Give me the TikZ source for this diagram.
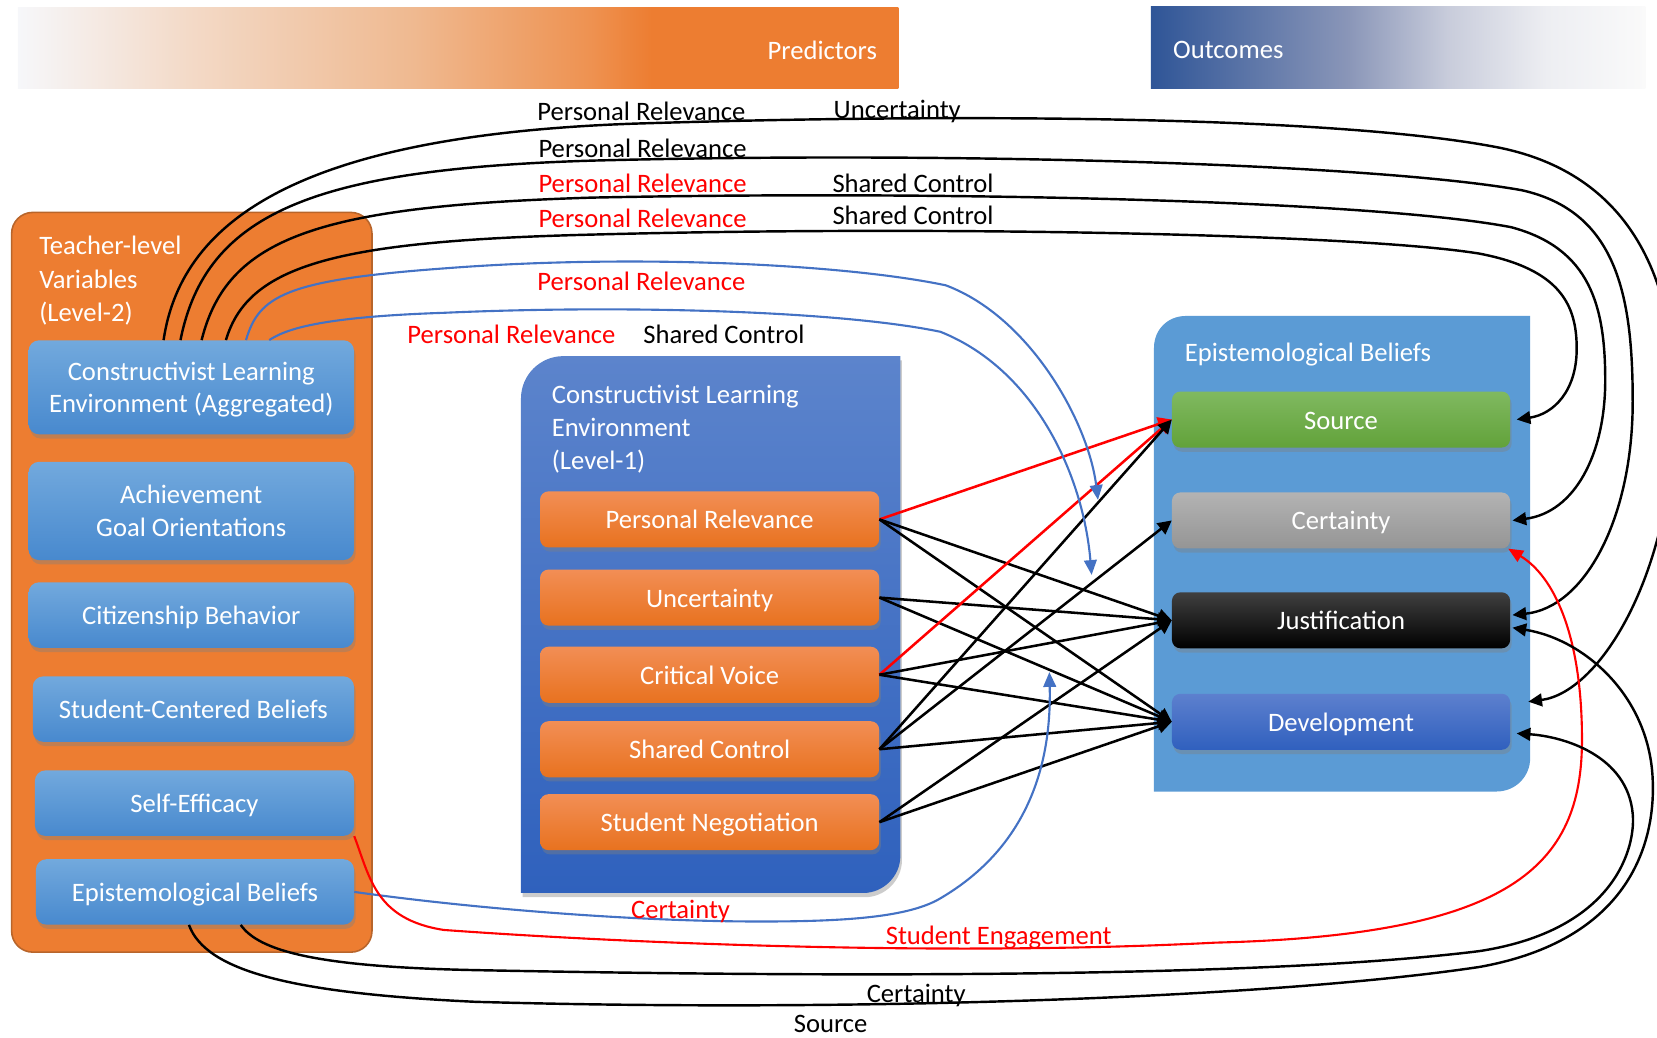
\documentclass[tikz,border=0pt]{standalone}
\usepackage{fontspec}
\setmainfont{Carlito}
\usetikzlibrary{arrows.meta,shadows}

\definecolor{orgC}{HTML}{ED7D31}
\definecolor{orgEdge}{HTML}{B8652B}
\definecolor{boxBlueTop}{HTML}{72A9DD}
\definecolor{boxBlueBot}{HTML}{4889CE}
\definecolor{orTop}{HTML}{F28E55}
\definecolor{orBot}{HTML}{E8721F}
\definecolor{midTop}{HTML}{5C84CC}
\definecolor{midBot}{HTML}{2F61BD}
\definecolor{epiFill}{HTML}{5B9BD5}
\definecolor{srcTop}{HTML}{80B960}
\definecolor{srcBot}{HTML}{62A23A}
\definecolor{crtTop}{HTML}{B3B3B3}
\definecolor{crtBot}{HTML}{959595}
\definecolor{jusTop}{HTML}{404040}
\definecolor{devTop}{HTML}{5D80CE}
\definecolor{devBot}{HTML}{3060BE}
\definecolor{linkBlue}{HTML}{4472C4}
\definecolor{linkRed}{HTML}{FF0000}
\definecolor{outDark}{HTML}{2F5597}
\definecolor{predL}{HTML}{F6F7FA}
\definecolor{predA}{HTML}{F3D9C6}
\definecolor{predB}{HTML}{EFB990}
\definecolor{predC}{HTML}{EE9251}
\definecolor{outA}{HTML}{8A96B8}
\definecolor{outB}{HTML}{C8CCDB}
\definecolor{outC}{HTML}{EDEEF2}
\definecolor{outD}{HTML}{FAFAFA}

% banner gradients (path box spans 25bp..75bp)
\pgfdeclarehorizontalshading{predbar}{100bp}{color(0bp)=(predL); color(25bp)=(predL); color(35bp)=(predA); color(47.5bp)=(predB); color(57.5bp)=(predC); color(61bp)=(orgC); color(100bp)=(orgC)}
\pgfdeclarehorizontalshading{outbar}{100bp}{color(0bp)=(outDark); color(25bp)=(outDark); color(45bp)=(outA); color(55bp)=(outB); color(65bp)=(outC); color(75bp)=(outD); color(100bp)=(outD)}

\tikzset{
  every node/.style={font=\fontsize{25.2}{31}\selectfont},
  softshadow/.style={drop shadow={shadow xshift=1.5pt, shadow yshift=-4pt, opacity=0.4}},
  oneline/.style={text height=18pt, text depth=0pt},
  twoline/.style={text depth=0pt},
  lvbox/.style={rounded corners=10pt, top color=boxBlueTop, bottom color=boxBlueBot,
    text=white, align=center, inner sep=0pt, softshadow},
  obox/.style={rounded corners=8pt, top color=orTop, bottom color=orBot, text=white,
    minimum width=321pt, minimum height=53pt, inner sep=0pt, softshadow, oneline},
  ebox/.style={rounded corners=8pt, text=white, minimum width=320pt,
    minimum height=53pt, inner sep=0pt, softshadow, oneline},
  title/.style={anchor=base west, align=left, text=white, inner sep=0pt},
  lbl/.style={anchor=base, inner sep=0pt},
  straight/.style={line width=2.4pt, -{Triangle[length=13pt,width=13pt]}},
  crv/.style={line width=2.3pt, -{Triangle[length=13pt,width=12pt]}},
  bcrv/.style={line width=2pt, draw=linkBlue, -{Triangle[length=14pt,width=12pt]}},
  rcrv/.style={line width=2pt, draw=linkRed, -{Triangle[length=14pt,width=12pt]}}
}

\begin{document}
\begin{tikzpicture}[x=1pt,y=-1pt]
\useasboundingbox (0,0) rectangle (1568,982);

% banners
\shade[shading=predbar] (17,7) rectangle (850,84);
\node[anchor=base east, text=white, inner sep=0pt] (predlbl) at (830,56) {Predictors};
\shade[shading=outbar] (1089,6) rectangle (1557,84);
\node[anchor=base west, text=white, inner sep=0pt] (outlbl) at (1110,55) {Outcomes};

% teacher-level container
\node[draw=orgEdge, fill=orgC, line width=1.5pt, rounded corners=20pt,
  minimum width=341pt, minimum height=700pt, inner sep=0pt] (lvtwo) at (181.5,551) {};
\node[title] (lvtwotitle) at (37,241) {Teacher-level};
\node[title] (lvtwotitleb) at (37,273) {Variables};
\node[title] (lvtwotitlec) at (37,304) {(Level-2)};

\node[lvbox, twoline, minimum width=308pt, minimum height=89pt] (cle) at (181,366.5)
  {Constructivist Learning\\Environment (Aggregated)};
\node[lvbox, twoline, minimum width=308pt, minimum height=93pt] (ago) at (181,483.5)
  {Achievement\\Goal Orientations};
\node[lvbox, oneline, minimum width=308pt, minimum height=62pt] (cb) at (181,582) {Citizenship Behavior};
\node[lvbox, oneline, minimum width=304pt, minimum height=62pt] (scb) at (183,671) {Student-Centered Beliefs};
\node[lvbox, oneline, minimum width=302pt, minimum height=62pt] (se) at (184,760) {Self-Efficacy};
\node[lvbox, oneline, minimum width=301pt, minimum height=62pt] (eb) at (184.5,844) {Epistemological Beliefs};

% level-1 container
\shade[top color=midTop, bottom color=midBot, softshadow]
  (493,845) -- (493,377) .. controls (493,355) and (511,337) .. (533,337)
  -- (852,337) -- (852,810) .. controls (852,829) and (836,845) .. (817,845) -- cycle;
\node[title] (lvonetitle) at (522,382) {Constructivist Learning};
\node[title] (lvonetitleb) at (522,413) {Environment};
\node[title] (lvonetitlec) at (522,444) {(Level-1)};

\node[obox] (pr) at (671.5,491.5) {Personal Relevance};
\node[obox] (un) at (671.5,565.5) {Uncertainty};
\node[obox] (cv) at (671.5,638.5) {Critical Voice};
\node[obox] (sc) at (671.5,709) {Shared Control};
\node[obox] (sn) at (671.5,778) {Student Negotiation};

% outcome container
\fill[epiFill] (1092,749) -- (1092,329) .. controls (1092,312) and (1105,299) .. (1122,299)
  -- (1448,299) -- (1448,717) .. controls (1448,735) and (1434,749) .. (1416,749) -- cycle;
\node[title] (epititle) at (1121,342) {Epistemological Beliefs};

\node[ebox, top color=srcTop, bottom color=srcBot] (src) at (1269,397) {Source};
\node[ebox, top color=crtTop, bottom color=crtBot] (cert) at (1269,492.5) {Certainty};
\node[ebox, top color=jusTop, middle color=black, bottom color=black] (just) at (1269,587) {Justification};
\node[ebox, top color=devTop, bottom color=devBot] (dev) at (1269,683) {Development};

% level-1 to outcome paths
\draw[straight, draw=linkRed] (pr.east) -- (src.west);
\draw[straight] (pr.east) -- (just.west);
\draw[straight] (pr.east) -- (dev.west);
\draw[straight] (un.east) -- (just.west);
\draw[straight] (un.east) -- (dev.west);
\draw[straight, draw=linkRed] (cv.east) -- (src.west);
\draw[straight] (cv.east) -- (just.west);
\draw[straight] (cv.east) -- (dev.west);
\draw[straight] (sc.east) -- (src.west);
\draw[straight] (sc.east) -- (cert.west);
\draw[straight] (sc.east) -- (dev.west);
\draw[straight] (sn.east) -- (just.west);
\draw[straight] (sn.east) -- (dev.west);

% cross-level paths over the top
\draw[crv] ([xshift=128pt]cle.north west) .. controls (172,205) and (290,128) .. (600,117)
  .. controls (950,106) and (1280,112) .. (1420,140)
  .. controls (1540,165) and (1585,260) .. (1585,380)
  .. controls (1585,540) and (1515,655) .. ([xshift=17pt,yshift=19pt]dev.east);
\draw[crv] ([xshift=144pt]cle.north west) .. controls (195,200) and (300,160) .. (560,152)
  .. controls (900,143) and (1300,155) .. (1440,180)
  .. controls (1530,200) and (1545,280) .. (1545,380)
  .. controls (1545,490) and (1500,575) .. ([xshift=2pt,yshift=5pt]just.east);
\draw[crv] ([xshift=164pt]cle.north west) .. controls (215,225) and (300,195) .. (560,187)
  .. controls (900,180) and (1300,190) .. (1430,215)
  .. controls (1505,235) and (1519,290) .. (1519,360)
  .. controls (1519,430) and (1490,485) .. ([xshift=2pt]cert.east);
\draw[crv] ([xshift=187pt]cle.north west) .. controls (235,250) and (320,228) .. (560,222)
  .. controls (900,213) and (1290,222) .. (1400,240)
  .. controls (1478,255) and (1492,290) .. (1492,330)
  .. controls (1492,370) and (1470,392) .. ([xshift=6pt]src.east);

% moderation paths onto the level-1 links
\coordinate (bta) at (1039,473);
\coordinate (btb) at (1033,544);
\coordinate (btc) at (993,636);
\draw[bcrv] ([xshift=206pt]cle.north west) .. controls (245,280) and (270,265) .. (420,254)
  .. controls (600,240) and (800,250) .. (895,270)
  .. controls (975,300) and (1030,400) .. (bta);
\draw[bcrv] ([xshift=228pt]cle.north west) .. controls (270,312) and (300,300) .. (420,296)
  .. controls (600,288) and (800,295) .. (890,314)
  .. controls (980,350) and (1025,450) .. (btb);
\draw[bcrv] (eb.east) .. controls (450,860) and (600,872) .. (720,872)
  .. controls (800,872) and (860,868) .. (890,850)
  .. controls (975,800) and (995,720) .. (btc);

% paths along the bottom
\draw[rcrv] (se.south east) .. controls (350,830) and (355,870) .. (420,880)
  .. controls (600,893) and (900,905) .. (1150,892)
  .. controls (1430,885) and (1497,820) .. (1497,700)
  .. controls (1497,600) and (1470,545) .. ([xshift=-2pt]cert.south east);
\draw[crv] ([xshift=194pt]eb.south west) .. controls (245,900) and (300,915) .. (450,918)
  .. controls (800,925) and (1200,925) .. (1400,900)
  .. controls (1530,880) and (1548,800) .. (1545,770)
  .. controls (1540,715) and (1480,697) .. ([xshift=6pt,yshift=-11pt]dev.east);
\draw[crv] ([xshift=145pt]eb.south west) .. controls (195,920) and (280,940) .. (450,948)
  .. controls (800,958) and (1200,945) .. (1400,915)
  .. controls (1540,890) and (1566,800) .. (1564,740)
  .. controls (1562,660) and (1500,605) .. ([xshift=2pt,yshift=-7pt]just.east);

% path labels
\node[lbl] (la) at (607,114) {Personal Relevance};
\node[lbl] (lb) at (849,112) {Uncertainty};
\node[lbl] (lc) at (608,149) {Personal Relevance};
\node[lbl, text=linkRed] (ld) at (608,182) {Personal Relevance};
\node[lbl] (le) at (864,182) {Shared Control};
\node[lbl, text=linkRed] (lf) at (608,215) {Personal Relevance};
\node[lbl] (lg) at (864,212) {Shared Control};
\node[lbl, text=linkRed] (lh) at (607,275) {Personal Relevance};
\node[lbl, text=linkRed] (li) at (484,325) {Personal Relevance};
\node[lbl] (lj) at (685,325) {Shared Control};
\node[lbl, text=linkRed] (lk) at (644,869) {Certainty};
\node[lbl, text=linkRed] (ll) at (945,894) {Student Engagement};
\node[lbl] (lm) at (867,949) {Certainty};
\node[lbl] (ln) at (786,977) {Source};
\end{tikzpicture}
\end{document}
